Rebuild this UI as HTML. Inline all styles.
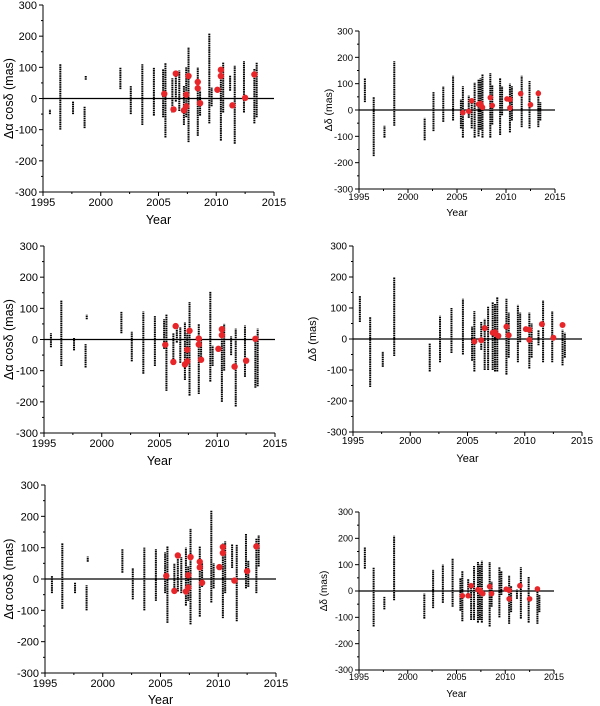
<!DOCTYPE html>
<html><head><meta charset="utf-8"><style>
html,body{margin:0;padding:0;background:#fff;}
svg{display:block;font-family:"Liberation Sans",sans-serif;}
</style></head><body>
<svg id="c" width="600" height="706" viewBox="0 0 600 706"></svg>
<script>
const years=[1995.6,1996.5,1997.6,1998.6,1998.7,2001.7,2002.6,2003.6,2004.6,2005.4,2005.6,2006.2,2006.5,2006.8,2007.2,2007.4,2007.6,2008.4,2008.6,2009.4,2009.6,2010.4,2010.6,2011.2,2011.6,2012.4,2012.6,2013.3,2013.5];
const p1Lo=[-50,-100,-50,-95,60,30,-50,-85,-55,-60,-125,-45,-10,-40,-85,-60,-140,-120,-55,-80,-25,-135,-45,25,-145,-45,null,-80,-60];
const p1Hi=[-35,110,-10,-25,72,100,40,110,100,95,115,65,80,90,40,100,165,100,25,210,35,95,115,75,105,120,null,95,115];
const p2Lo=[30,-175,-105,-60,null,-115,-80,-45,-40,-70,-105,-30,-70,-105,-100,-75,-105,-105,-55,-95,-20,-85,-40,null,-65,-70,null,-65,-40];
const p2Hi=[120,50,-60,185,null,-30,70,90,130,40,90,55,40,105,115,120,135,140,95,120,90,100,90,null,130,110,null,75,30];
const p3Lo=[-25,-85,-35,-90,65,20,-70,-110,-85,-30,-165,-70,-10,-75,-130,-75,-180,-175,-70,-135,-85,-200,-100,-50,-215,-120,null,-155,-150];
const p3Hi=[20,125,5,-15,80,90,25,90,75,65,80,20,45,40,55,20,120,50,0,155,-20,35,50,10,35,45,null,10,35];
const p4Lo=[55,-155,-90,-55,null,-105,-75,-45,-50,-70,-105,-35,-100,-100,-100,-105,-105,-115,-60,-75,-10,-95,-60,-20,-75,-75,null,-85,-60];
const p4Hi=[140,70,-40,200,null,-15,75,100,130,40,90,55,65,105,120,115,135,130,85,110,85,85,50,30,125,90,null,30,20];
const p5Lo=[-45,-95,-45,-100,55,20,-65,-100,-70,-45,-140,-35,-40,-45,-85,-70,-145,-120,-25,-75,-30,-125,-45,35,-135,-30,-25,-45,40];
const p5Hi=[10,115,-10,-20,72,95,35,100,95,85,105,50,75,70,100,40,160,105,50,220,50,115,120,110,110,145,60,130,140];
const p6Lo=[85,-135,-70,-35,null,-105,-65,-45,-60,-75,-115,-20,-110,-110,-120,-110,-120,-135,-60,-100,-15,-125,-80,-30,-105,-120,null,-125,-80];
const p6Hi=[165,90,-20,210,null,-10,80,100,125,50,75,45,25,95,110,100,115,110,35,90,75,60,20,5,90,55,null,15,-15];
const p1RedX=[2005.5,2006.3,2006.5,2007.2,2007.4,2007.4,2007.6,2008.4,2008.4,2008.6,2010.1,2010.4,2010.4,2011.4,2012.5,2013.3];
const p1RedY=[15,-35,80,-38,12,-25,72,53,33,-15,28,92,72,-22,2,77];
const p2RedX=[2005.6,2006.2,2006.5,2007.2,2007.4,2007.5,2007.6,2008.4,2008.6,2010.1,2010.4,2010.4,2011.5,2012.5,2013.3];
const p2RedY=[-10,-5,35,22,25,15,10,47,17,42,40,8,62,20,63];
const p3RedX=[2005.5,2006.2,2006.4,2007.2,2007.4,2007.4,2007.6,2008.4,2008.4,2008.6,2010.1,2010.4,2010.4,2011.5,2012.5,2013.3];
const p3RedY=[-17,-72,43,-80,-33,-70,28,3,-16,-65,-30,33,14,-87,-68,2];
const p4RedX=[2005.6,2006.2,2006.5,2007.2,2007.4,2007.5,2007.7,2008.4,2008.6,2010.1,2010.4,2010.4,2011.5,2012.5,2013.3];
const p4RedY=[-8,-4,35,20,22,15,10,40,12,32,30,-3,48,4,45];
const p5RedX=[2005.5,2006.2,2006.5,2007.2,2007.4,2007.4,2007.6,2008.4,2008.4,2008.6,2010.1,2010.4,2010.4,2011.4,2012.5,2013.3];
const p5RedY=[10,-38,75,-40,12,-27,70,55,37,-12,38,102,83,-5,25,104];
const p6RedX=[2005.6,2006.2,2006.5,2007.2,2007.4,2007.5,2007.7,2008.4,2008.6,2010.1,2010.4,2010.4,2011.5,2012.5,2013.3];
const p6RedY=[-18,-18,20,5,3,-5,-10,17,-10,7,-30,3,20,-30,8];
const xTicks=[1995,2000,2005,2010,2015];
const yTicks=[-300,-200,-100,0,100,200,300];

const NS='http://www.w3.org/2000/svg';
const svg=document.getElementById('c');
function mk(tag,attrs,parent){const e=document.createElementNS(NS,tag);for(const k in attrs)e.setAttribute(k,attrs[k]);(parent||svg).appendChild(e);return e;}

const panels=[
 {id:'p1',x0:43,x1:274,yt:5,yb:192,fs:11,ts:12.5,title:'Δα cosδ (mas)',tx:13,lo:p1Lo,hi:p1Hi,rx:p1RedX,ry:p1RedY,r:3.2,yl:206,yy:224},
 {id:'p2',x0:359,x1:555,yt:31,yb:189,fs:9.5,ts:10.5,title:'Δδ (mas)',tx:332,lo:p2Lo,hi:p2Hi,rx:p2RedX,ry:p2RedY,r:2.8,yl:200,yy:216},
 {id:'p3',x0:44,x1:275,yt:246,yb:433,fs:11,ts:12.5,title:'Δα cosδ (mas)',tx:13,lo:p3Lo,hi:p3Hi,rx:p3RedX,ry:p3RedY,r:3.2,yl:447,yy:465},
 {id:'p4',x0:353,x1:582,yt:246,yb:432,fs:10,ts:11,title:'Δδ (mas)',tx:316,lo:p4Lo,hi:p4Hi,rx:p4RedX,ry:p4RedY,r:3,yl:444,yy:462},
 {id:'p5',x0:45,x1:276,yt:485,yb:673,fs:11,ts:12.5,title:'Δα cosδ (mas)',tx:13,lo:p5Lo,hi:p5Hi,rx:p5RedX,ry:p5RedY,r:3.2,yl:687,yy:704},
 {id:'p6',x0:359,x1:554,yt:512,yb:670,fs:9,ts:10,title:'Δδ (mas)',tx:327,lo:p6Lo,hi:p6Hi,rx:p6RedX,ry:p6RedY,r:2.8,yl:680,yy:697}
];

panels.forEach(p=>{
  const g=mk('g',{});
  
  
  const X=v=>p.x0+(v-1995)/20*(p.x1-p.x0);
  const Y=v=>p.yb-(v+300)/600*(p.yb-p.yt);
  years.forEach((yr,i)=>{
    if(p.lo[i]===null)return;
    const l=mk('line',{x1:X(yr),x2:X(yr),y1:Y(p.lo[i]),y2:Y(p.hi[i]),stroke:'#000','stroke-width':2,'stroke-dasharray':'1.6 0.6'},g);
    
    
  });
  const z=mk('line',{x1:p.x0,x2:p.x1,y1:Y(0),y2:Y(0),stroke:'#000','stroke-width':1.2},g);
  
  
  p.rx.forEach((v,i)=>{
    const c=mk('circle',{cx:X(v),cy:Y(p.ry[i]),r:p.r,fill:'#e8262a'},g);
    
    
  });
  const ya=mk('line',{x1:p.x0,x2:p.x0,y1:p.yt,y2:p.yb,stroke:'#000','stroke-width':1},g);
  
  
  const xa=mk('line',{x1:p.x0,x2:p.x1,y1:p.yb,y2:p.yb,stroke:'#000','stroke-width':1},g);
  
  
  for(let v=-300;v<=300;v+=50){
    const major=v%100===0;
    mk('line',{x1:p.x0-(major?4:2),x2:p.x0,y1:Y(v),y2:Y(v),stroke:'#000','stroke-width':1},g);
  }
  for(let v=1995;v<=2015;v+=2.5){
    const major=v%5===0;
    mk('line',{x1:X(v),x2:X(v),y1:p.yb,y2:p.yb+(major?4:2),stroke:'#000','stroke-width':1},g);
  }
  yTicks.forEach(v=>{
    const t=mk('text',{x:p.x0-6,y:Y(v)+p.fs*0.36,'font-size':p.fs,'text-anchor':'end',fill:'#000'},g);
    t.textContent=v;
    
    
  });
  xTicks.forEach(v=>{
    const t=mk('text',{x:X(v),y:p.yl,'font-size':p.fs,'text-anchor':'middle',fill:'#000'},g);
    t.textContent=v;
    
    
  });
  const xt=mk('text',{x:(p.x0+p.x1)/2,y:p.yy,'font-size':p.ts,'text-anchor':'middle',fill:'#000'},g);
  xt.textContent='Year';
  
  
  const cy=(p.yt+p.yb)/2;
  const yt=mk('text',{x:p.tx,y:cy,'font-size':p.ts,'text-anchor':'middle',fill:'#000',transform:'rotate(-90 '+p.tx+' '+cy+')'},g);
  yt.textContent=p.title;
  
  
});
</script>
</body></html>
